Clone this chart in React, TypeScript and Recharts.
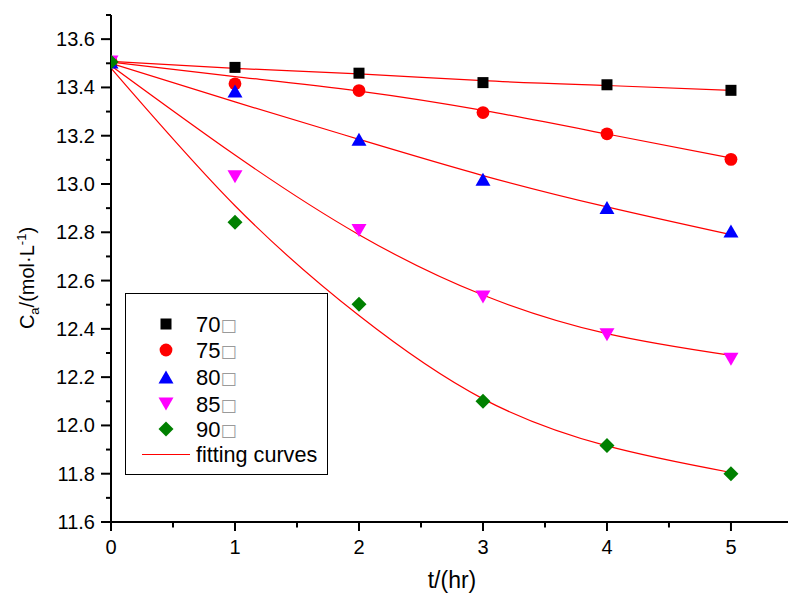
import React from 'react';
import { ComposedChart, XAxis, YAxis, Scatter, Line, Customized } from 'recharts';

// ---- data ----
const times = [0, 1, 2, 3, 4, 5];
const c70 = [13.505, 13.483, 13.459, 13.42, 13.411, 13.388];
const c75 = [13.505, 13.415, 13.387, 13.296, 13.208, 13.102];
const c80 = [13.505, 13.385, 13.185, 13.02, 12.903, 12.805];
const c85 = [13.505, 13.03, 12.807, 12.532, 12.376, 12.274];
const c90 = [13.505, 12.842, 12.502, 12.1, 11.917, 11.8];

const fitT = [0, 1, 2, 3, 4, 5];
const fit70 = [13.508, 13.479, 13.456, 13.428, 13.408, 13.388];
const fit75 = [13.505, 13.445, 13.385, 13.305, 13.207, 13.108];
const fit80 = [13.5, 13.34, 13.185, 13.035, 12.905, 12.79];
const fit85 = [13.49, 13.12, 12.79, 12.54, 12.38, 12.29];
const fit90 = [13.48, 12.91, 12.455, 12.11, 11.915, 11.805];

const seriesNames = ['70', '75', '80', '85', '90'];
const fitName = 'fitting curves';

const xTicks = [0, 0.5, 1, 1.5, 2, 2.5, 3, 3.5, 4, 4.5, 5];
const xTickLabels = ['0', '', '1', '', '2', '', '3', '', '4', '', '5'];
const yTicks = [11.6, 11.7, 11.8, 11.9, 12.0, 12.1, 12.2, 12.3, 12.4, 12.5, 12.6, 12.7, 12.8, 12.9, 13.0, 13.1, 13.2, 13.3, 13.4, 13.5, 13.6, 13.7];
const yTickLabels = ['11.6', '', '11.8', '', '12.0', '', '12.2', '', '12.4', '', '12.6', '', '12.8', '', '13.0', '', '13.2', '', '13.4', '', '13.6', ''];

const xLabel = 't/(hr)';

// ---- layout / style ----
const W = 788;
const H = 599;
const AXIS_X = 111;
const AXIS_Y = 522;
const FONT = '"Liberation Sans", Arial, Helvetica, sans-serif';
const RED = '#ff0000';
const colors = ['#000000', '#ff0000', '#0000ff', '#ff00ff', '#008000'];

const toPts = (ts: number[], vs: number[]) => ts.map((t, i) => ({ t, v: vs[i] }));
const markerData = [c70, c75, c80, c85, c90].map((vs) => toPts(times, vs));
const fitData = [fit70, fit75, fit80, fit85, fit90].map((vs) => toPts(fitT, vs));

const Marker = ({ kind, cx, cy }: { kind: number; cx: number; cy: number }) => {
  const c = colors[kind];
  if (cx == null || cy == null) return null;
  switch (kind) {
    case 0:
      return <rect x={cx - 5.5} y={cy - 5.5} width={11} height={11} fill={c} />;
    case 1:
      return <circle cx={cx} cy={cy} r={6.4} fill={c} />;
    case 2:
      return <polygon points={`${cx},${cy - 6.5} ${cx - 7.5},${cy + 6.5} ${cx + 7.5},${cy + 6.5}`} fill={c} />;
    case 3:
      return <polygon points={`${cx - 7.5},${cy - 6.5} ${cx + 7.5},${cy - 6.5} ${cx},${cy + 6.5}`} fill={c} />;
    default:
      return <polygon points={`${cx},${cy - 7.5} ${cx + 7.5},${cy} ${cx},${cy + 7.5} ${cx - 7.5},${cy}`} fill={c} />;
  }
};

const labelFor = (ticks: number[], labels: string[], v: number) => {
  const i = ticks.findIndex((t) => Math.abs(t - v) < 1e-6);
  return i >= 0 ? labels[i] : '';
};

const YTick = (props: any) => {
  const { y, payload } = props;
  const lab = labelFor(yTicks, yTickLabels, payload.value);
  const len = lab ? 10 : 5;
  return (
    <g>
      <line x1={AXIS_X - len} x2={AXIS_X} y1={y} y2={y} stroke="#000" strokeWidth={2} />
      {lab ? (
        <text x={AXIS_X - 16} y={y + 7} textAnchor="end" fontSize={20} fontFamily={FONT} fill="#000">
          {lab}
        </text>
      ) : null}
    </g>
  );
};

const XTick = (props: any) => {
  const { x, payload } = props;
  const lab = labelFor(xTicks, xTickLabels, payload.value);
  const len = lab ? 9 : 5.5;
  return (
    <g>
      <line x1={x} x2={x} y1={AXIS_Y} y2={AXIS_Y + len} stroke="#000" strokeWidth={2} />
      {lab ? (
        <text x={x} y={AXIS_Y + 32} textAnchor="middle" fontSize={20} fontFamily={FONT} fill="#000">
          {lab}
        </text>
      ) : null}
    </g>
  );
};

const Decorations = () => {
  const bx = 125.5;
  const by = 293.5;
  const rows = [324, 350, 377, 404, 429];
  return (
    <g>
      {/* axis titles */}
      <text x={452} y={588} textAnchor="middle" fontSize={23} fontFamily={FONT} fill="#000">
        {xLabel}
      </text>
      <text transform="translate(34,278) rotate(-90)" textAnchor="middle" fontSize={20} fontFamily={FONT} fill="#000">
        <tspan>C</tspan>
        <tspan fontSize={13} dy={5}>a</tspan>
        <tspan dy={-5}>/(mol·L</tspan>
        <tspan fontSize={13} dy={-8}>-1</tspan>
        <tspan dy={8}>)</tspan>
      </text>
      {/* legend */}
      <rect x={bx} y={by} width={202} height={181} fill="#fff" stroke="#000" strokeWidth={1} />
      {seriesNames.map((n, i) => (
        <g key={n}>
          <Marker kind={i} cx={166} cy={rows[i]} />
          <text x={196} y={rows[i] + 8} fontSize={22} fontFamily={FONT} fill="#000">
            {n}
            <tspan fill="#9a9a9a" fontSize={17} fontFamily="DejaVu Sans" dy={-1}>□</tspan>
          </text>
        </g>
      ))}
      <line x1={142} x2={190} y1={454.5} y2={454.5} stroke={RED} strokeWidth={1} />
      <text x={196} y={462} fontSize={21.6} fontFamily={FONT} fill="#000">
        {fitName}
      </text>
    </g>
  );
};

export default function App() {
  return (
    <div style={{ position: 'fixed', left: 0, top: 0, width: W, height: H, background: '#fff' }}>
      <ComposedChart width={W} height={H} margin={{ top: 15, right: 0, bottom: 0, left: 0 }}>
        <XAxis
          type="number"
          dataKey="t"
          domain={[0, 5.46]}
          ticks={xTicks}
          interval={0}
          allowDataOverflow
          height={77}
          axisLine={{ stroke: '#000', strokeWidth: 2 }}
          tickLine={false}
          tick={XTick}
        />
        <YAxis
          type="number"
          dataKey="v"
          domain={[11.6, 13.7]}
          ticks={yTicks}
          interval={0}
          allowDataOverflow
          width={AXIS_X}
          axisLine={{ stroke: '#000', strokeWidth: 2 }}
          tickLine={false}
          tick={YTick}
        />
        {fitData.map((d, i) => (
          <Line
            key={'fit' + i}
            data={d}
            dataKey="v"
            type="natural"
            stroke={RED}
            strokeWidth={1.2}
            dot={false}
            activeDot={false}
            isAnimationActive={false}
          />
        ))}
        {markerData.map((d, i) => (
          <Scatter
            key={'s' + i}
            data={d}
            dataKey="v"
            isAnimationActive={false}
            shape={(p: any) => <Marker kind={i} cx={p.cx} cy={p.cy} />}
          />
        ))}
        <Customized component={Decorations} />
      </ComposedChart>
    </div>
  );
}
